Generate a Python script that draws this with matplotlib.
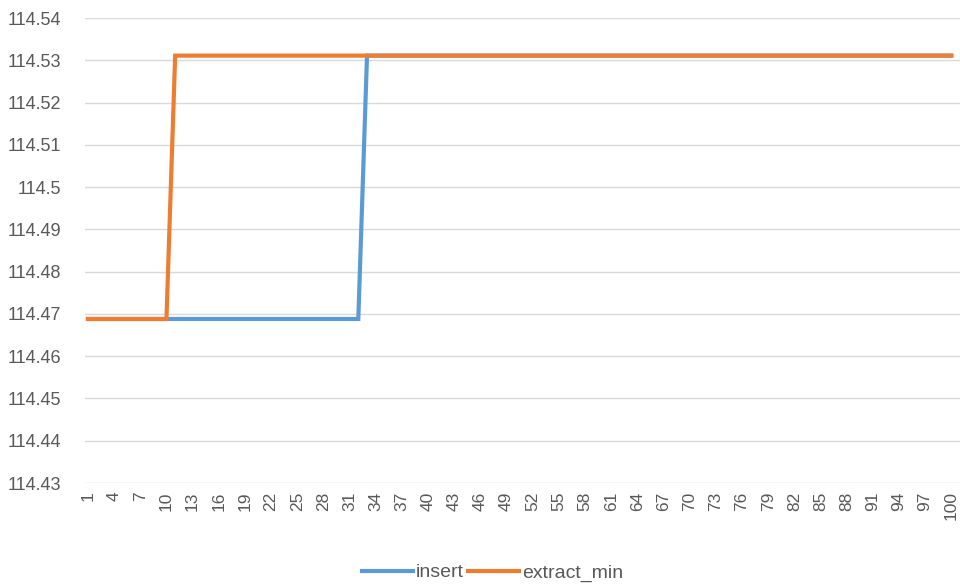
import matplotlib.pyplot as plt
from matplotlib.ticker import MultipleLocator, FormatStrFormatter

# categories 1..100, step values
categories = list(range(1, 101))
insert_vals = [114.4688] * 32 + [114.5311] * 68
extract_min_vals = [114.4688] * 10 + [114.5311] * 90
tick_labels = [str(c) for c in categories[::3]]

BLUE = "#5B9BD5"
ORANGE = "#ED7D31"
TEXT = "#595959"
GRID = "#D9D9D9"

plt.rcParams["font.family"] = ["Liberation Sans", "DejaVu Sans"]

fig = plt.figure(figsize=(9.6, 5.85), dpi=100)
ax = fig.add_axes([85 / 960, 1 - 483 / 585, 1 - 85 / 960, (483 - 18) / 585])

ax.plot(categories, insert_vals, color=BLUE, linewidth=3.0, label="insert",
        solid_joinstyle="miter", zorder=3)
ax.plot(categories, extract_min_vals, color=ORANGE, linewidth=3.0, label="extract_min",
        solid_joinstyle="miter", zorder=4)

ax.set_ylim(114.43, 114.54)
ax.yaxis.set_major_locator(MultipleLocator(0.01))
ax.yaxis.set_major_formatter(FormatStrFormatter("%g"))
ax.set_xlim(0.66, 101.0)
ax.set_xticks(categories[::3])
ax.set_xticklabels(tick_labels, rotation=90)

ax.grid(axis="y", color=GRID, linewidth=1.0, zorder=0)
for s in ax.spines.values():
    s.set_visible(False)
ax.tick_params(axis="both", length=0, colors=TEXT)
ax.tick_params(axis="y", pad=17, labelsize=13)
ax.tick_params(axis="x", pad=6, labelsize=12.5)

fig.legend(loc="center", bbox_to_anchor=(0.513, 0.021), ncol=2, frameon=False,
           fontsize=14, handlelength=2.6, handletextpad=0.15, columnspacing=0.25,
           labelcolor=TEXT)

fig.savefig("out.png", dpi=100)
